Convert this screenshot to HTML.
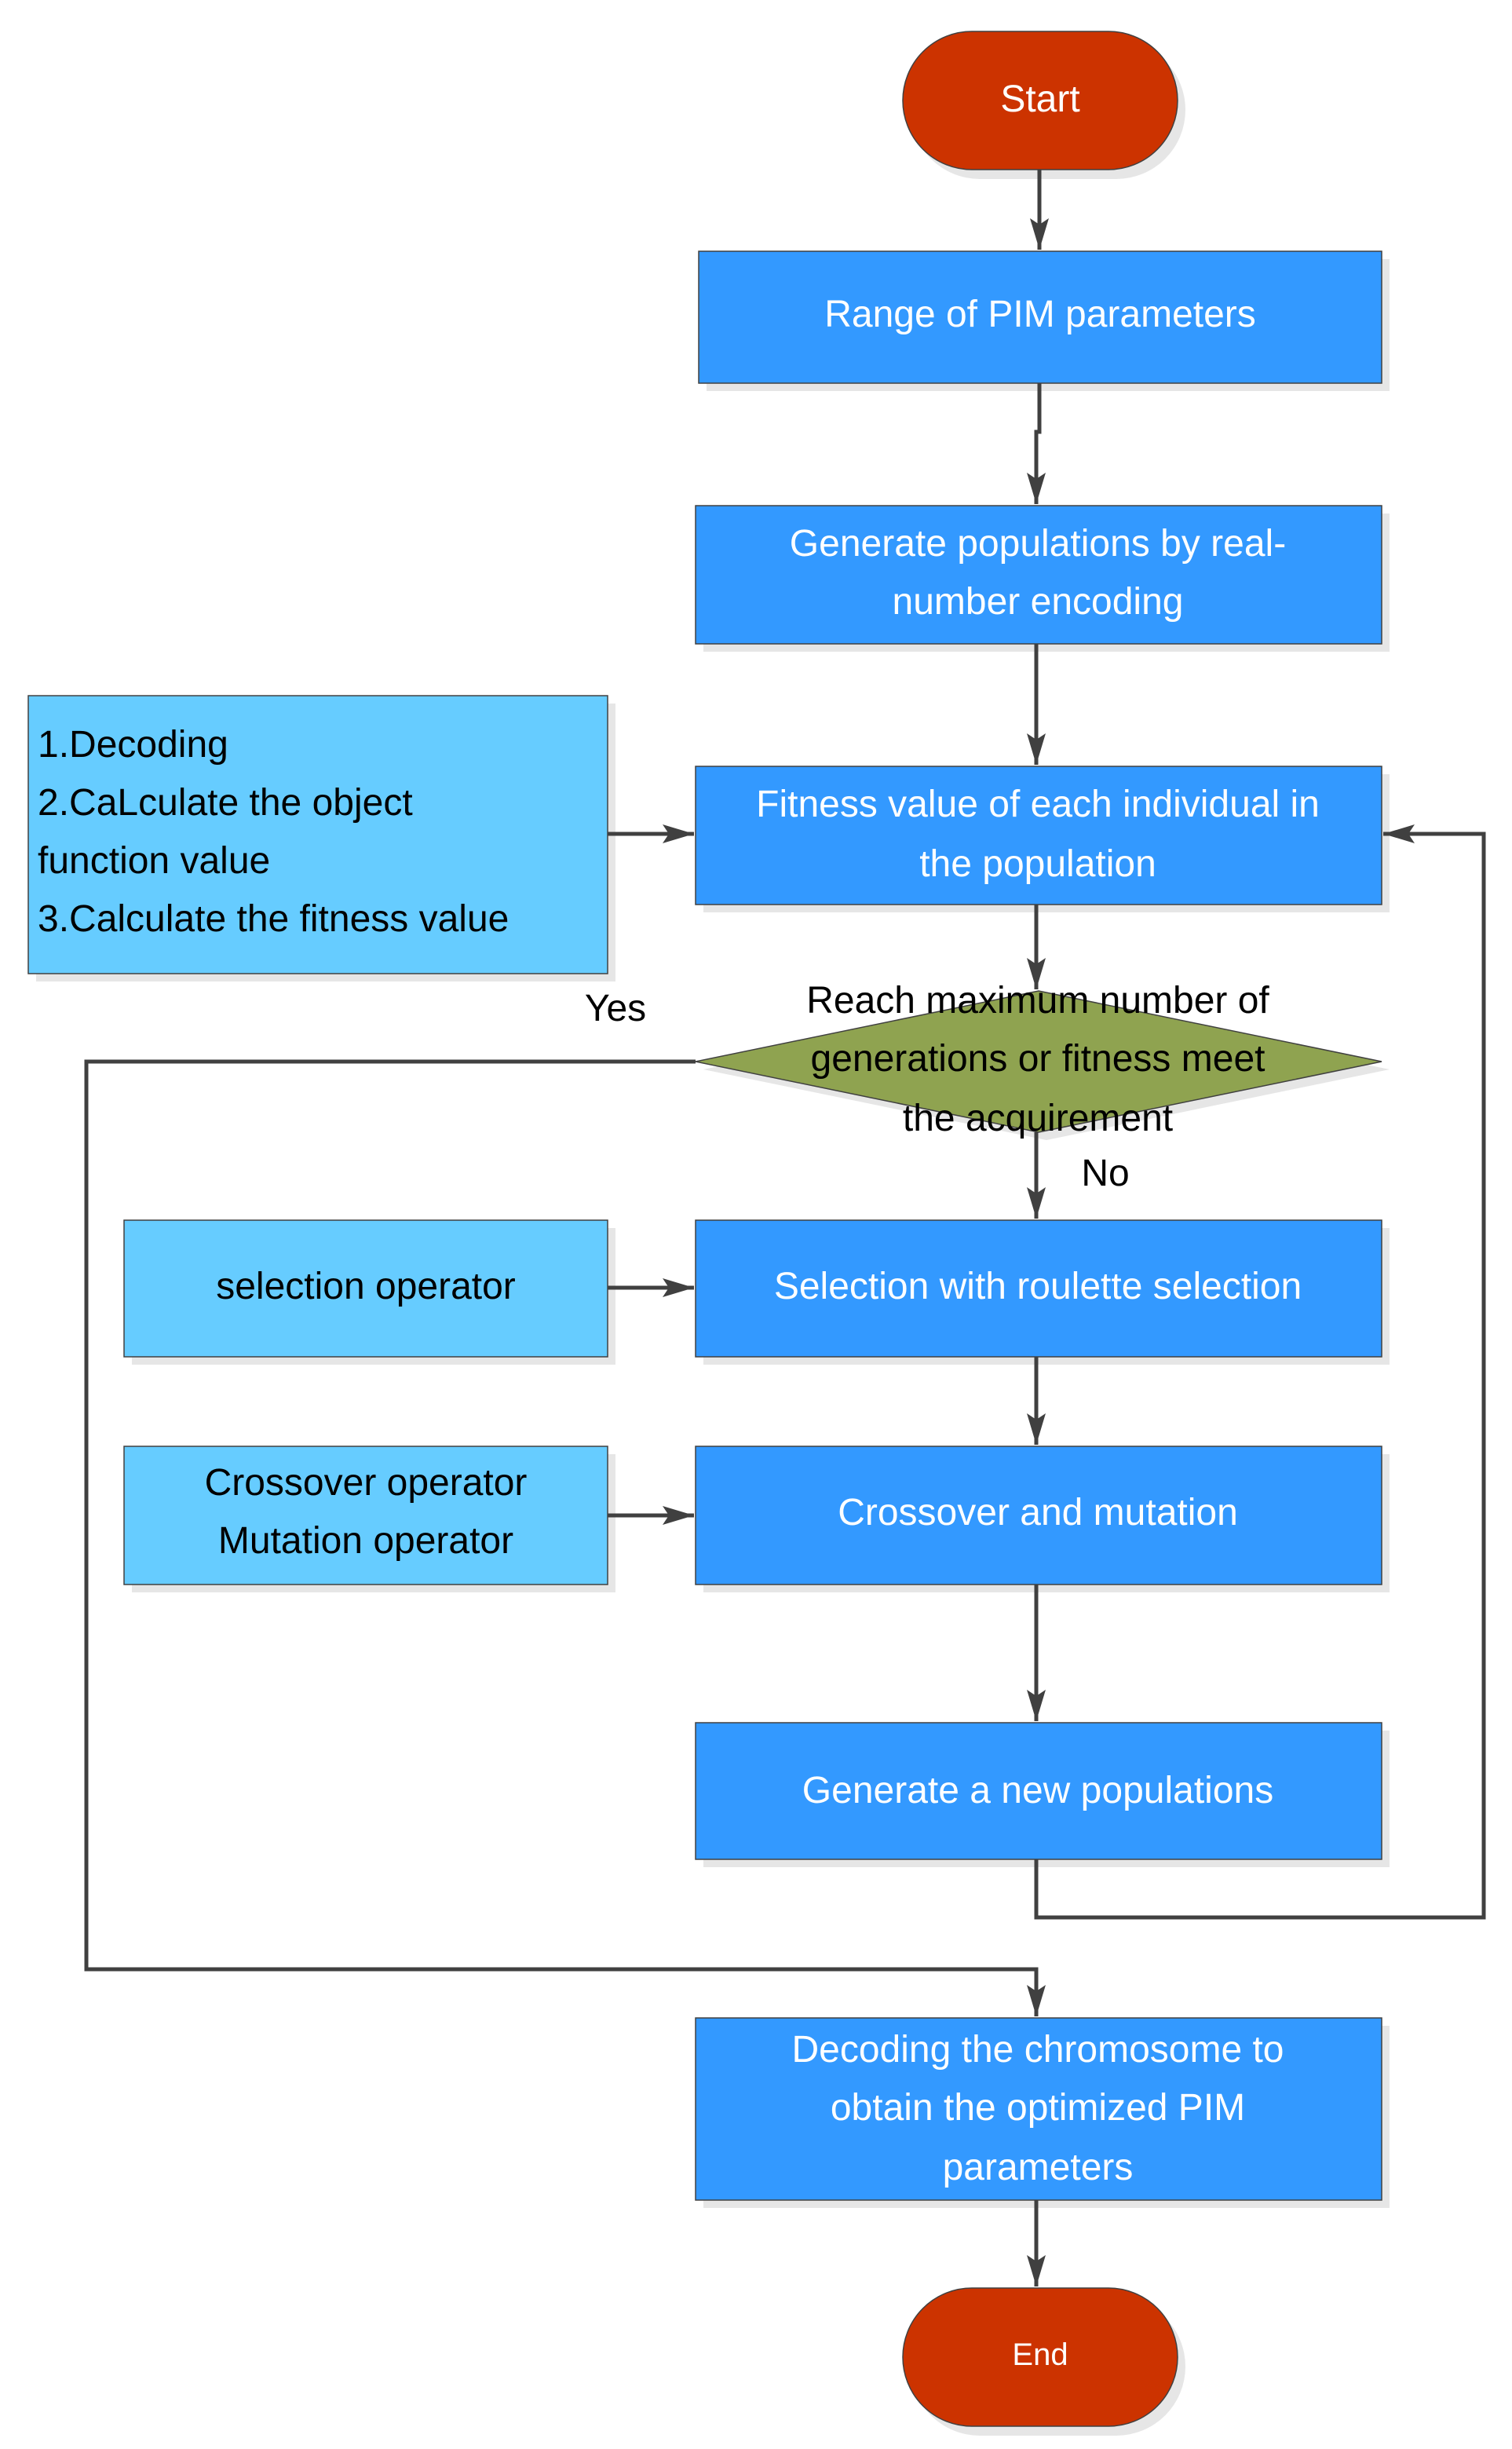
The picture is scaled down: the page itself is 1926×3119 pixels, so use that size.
<!DOCTYPE html>
<html><head><meta charset="utf-8"><style>html,body{margin:0;padding:0;background:#fff}svg{display:block}</style></head>
<body>
<svg width="1926" height="3119" viewBox="0 0 1926 3119" xmlns="http://www.w3.org/2000/svg" font-family="Liberation Sans, sans-serif">
<defs>
<marker id="a" viewBox="0 0 40 26" refX="40" refY="13" markerWidth="40" markerHeight="26" markerUnits="userSpaceOnUse" orient="auto">
<path d="M0,1 L40,13 L0,25 L8,13 Z" fill="#404040"/></marker>
</defs>
<g fill="#e6e6e6">
<rect x="1160" y="52" width="350" height="176" rx="88"/>
<rect x="900" y="330" width="870" height="168"/>
<rect x="896" y="654" width="874" height="176"/>
<rect x="896" y="986" width="874" height="176"/>
<rect x="46" y="896" width="738" height="354"/>
<polygon points="896,1362 1333,1272 1770,1362 1333,1452"/>
<rect x="168" y="1564" width="616" height="174"/>
<rect x="896" y="1564" width="874" height="174"/>
<rect x="168" y="1852" width="616" height="176"/>
<rect x="896" y="1852" width="874" height="176"/>
<rect x="896" y="2204" width="874" height="174"/>
<rect x="896" y="2580" width="874" height="232"/>
<rect x="1160" y="2926" width="350" height="176" rx="88"/>
</g>
<g stroke="#404040" stroke-width="1.5">
<rect x="1150" y="40" width="350" height="176" rx="88" fill="#CC3300"/>
<rect x="890" y="320" width="870" height="168" fill="#3399FF"/>
<rect x="886" y="644" width="874" height="176" fill="#3399FF"/>
<rect x="886" y="976" width="874" height="176" fill="#3399FF"/>
<rect x="36" y="886" width="738" height="354" fill="#66CCFF"/>
<polygon points="886,1352 1323,1262 1760,1352 1323,1442" fill="#8FA350"/>
<rect x="158" y="1554" width="616" height="174" fill="#66CCFF"/>
<rect x="886" y="1554" width="874" height="174" fill="#3399FF"/>
<rect x="158" y="1842" width="616" height="176" fill="#66CCFF"/>
<rect x="886" y="1842" width="874" height="176" fill="#3399FF"/>
<rect x="886" y="2194" width="874" height="174" fill="#3399FF"/>
<rect x="886" y="2570" width="874" height="232" fill="#3399FF"/>
<rect x="1150" y="2914" width="350" height="176" rx="88" fill="#CC3300"/>
</g>
<g stroke="#404040" stroke-width="5" fill="none" marker-end="url(#a)">
<path d="M1324,216 V318"/>
<path d="M1324,488 V550 H1320 V642"/>
<path d="M1320,820 V974"/>
<path d="M774,1062 H884"/>
<path d="M1320,1152 V1260"/>
<path d="M1320,1442 V1552"/>
<path d="M774,1640 H884"/>
<path d="M1320,1728 V1840"/>
<path d="M774,1930 H884"/>
<path d="M1320,2018 V2192"/>
<path d="M1320,2368 V2442 H1890 V1062 H1762"/>
<path d="M886,1352 H110 V2508 H1320 V2568"/>
<path d="M1320,2802 V2912"/>
</g>
<g fill="#fff" font-size="48" text-anchor="middle">
<text x="1325" y="142">Start</text>
<text x="1325" y="416">Range of PIM parameters</text>
<text x="1322" y="708">Generate populations by real-</text>
<text x="1322" y="782">number encoding</text>
<text x="1322" y="1040">Fitness value of each individual in</text>
<text x="1322" y="1116">the population</text>
<text x="1322" y="1654">Selection with roulette selection</text>
<text x="1322" y="1942">Crossover and mutation</text>
<text x="1322" y="2296">Generate a new populations</text>
<text x="1322" y="2626">Decoding the chromosome to</text>
<text x="1322" y="2700">obtain the optimized PIM</text>
<text x="1322" y="2776">parameters</text>
<text x="1325" y="3012" font-size="40">End</text>
</g>
<g fill="#000" font-size="48">
<text x="48" y="964">1.Decoding</text>
<text x="48" y="1038">2.CaLculate the object</text>
<text x="48" y="1112">function value</text>
<text x="48" y="1186">3.Calculate the fitness value</text>
<g text-anchor="middle">
<text x="466" y="1654">selection operator</text>
<text x="466" y="1904">Crossover operator</text>
<text x="466" y="1978">Mutation operator</text>
<text x="1322" y="1290">Reach maximum number of</text>
<text x="1322" y="1364">generations or fitness meet</text>
<text x="1322" y="1440">the acquirement</text>
<text x="784" y="1300">Yes</text>
<text x="1408" y="1510">No</text>
</g>
</g>
</svg>
</body></html>
